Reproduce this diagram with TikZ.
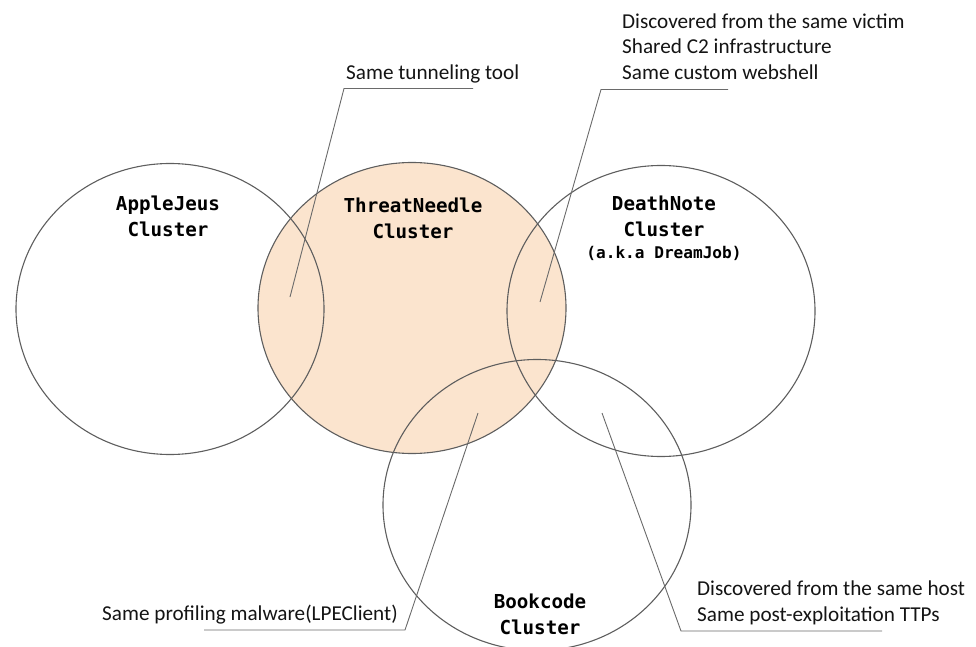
\documentclass[tikz,border=0pt]{standalone}
\usepackage{fontspec}
\setmainfont{Carlito}
\newfontfamily\clmono{DejaVu Sans Mono}
\usetikzlibrary{shapes.geometric}
\definecolor{peach}{HTML}{FBE4CE}
\definecolor{edgegray}{HTML}{5E5E5E}
\definecolor{leadgray}{HTML}{6A6A6A}
\tikzset{
  cluster/.style={ellipse, draw=edgegray, line width=1.1pt, minimum width=308pt, minimum height=291pt, inner sep=0pt},
  clabel/.style={font=\clmono\bfseries\fontsize{19.2}{26}\selectfont, align=center, inner sep=0pt, text=black},
  note/.style={font=\fontsize{21.2}{25.5}\selectfont, align=left, inner sep=0pt, anchor=base west, text=black!92},
  leader/.style={draw=leadgray, line width=0.9pt}
}
\begin{document}
\begin{tikzpicture}[x=1pt, y=-1pt]
\useasboundingbox (0,0) rectangle (976,647);
% fill of ThreatNeedle first
\fill[peach] (412,308) ellipse [x radius=154, y radius=145.5];
% clusters
\node[cluster] (aj) at (170,309) {};
\node[cluster] (tn) at (412,308) {};
\node[cluster] (dn) at (661,311) {};
\node[cluster] (bc) at (537,505) {};
% cluster labels
\node[clabel] (ajl) at (168,216) {AppleJeus\\Cluster};
\node[clabel] (tnl) at (413,218) {ThreatNeedle\\Cluster};
\node[clabel] (dnl) at (664,216) {DeathNote\\Cluster};
\node[clabel, font=\clmono\bfseries\fontsize{16.1}{20}\selectfont] (dnk) at (664,253.5) {(a.k.a DreamJob)};
\node[clabel] (bcl) at (540,614.5) {Bookcode\\Cluster};
% notes (base anchor = baseline of the last line)
\node[note] (n1) at (346,80) {Same tunneling tool};
\node[note] (n2) at (622,79.5) {Discovered from the same victim\\Shared C2 infrastructure\\Same custom webshell};
\node[note] (n3) at (102,620.5) {Same profiling malware(LPEClient)};
\node[note] (n4) at (697,621) {Discovered from the same host\\Same post-exploitation TTPs};
% leader points
\coordinate (p1) at (290,297);
\coordinate (c1) at (344,88.5);
\coordinate (e1) at (473,88.5);
\coordinate (p2) at (540,302);
\coordinate (c2) at (601,89.5);
\coordinate (e2) at (728,89.5);
\coordinate (p3) at (478,413);
\coordinate (c3) at (405,630);
\coordinate (e3) at (204,630);
\coordinate (p4) at (602,413);
\coordinate (c4) at (681,631);
\coordinate (e4) at (882,631);
\draw[leader] (p1) -- (c1) -- (e1);
\draw[leader] (p2) -- (c2) -- (e2);
\draw[leader] (p3) -- (c3) -- (e3);
\draw[leader] (p4) -- (c4) -- (e4);
\end{tikzpicture}
\end{document}
